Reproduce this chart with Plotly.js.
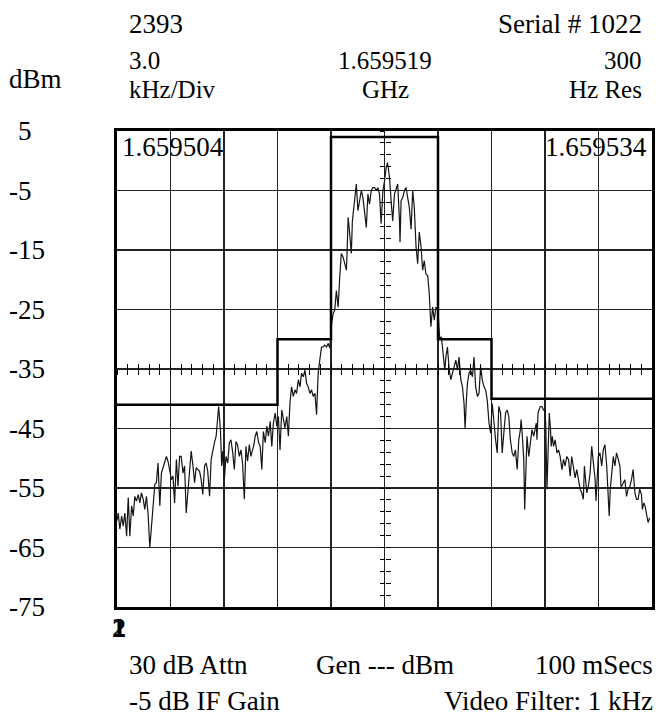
<!DOCTYPE html>
<html>
<head>
<meta charset="utf-8">
<script src="https://cdn.plot.ly/plotly-3.0.1.min.js"></script>
<style>html,body{margin:0;padding:0;background:#fff;}#chart{width:656px;height:717px;}</style>
</head>
<body>
<div id="chart"></div>
<script>
// Frequency offset from centre (kHz) and measured level (dBm)
const freqKHz = [
-15.00,-14.93,-14.84,-14.74,-14.65,-14.56,-14.46,-14.37,-14.28,-14.18,-14.09,-14.00,-13.91,-13.81,-13.72,-13.63,-13.53,-13.44,-13.35,-13.26,
-13.16,-13.07,-12.98,-12.88,-12.79,-12.70,-12.60,-12.51,-12.42,-12.33,-12.23,-12.14,-12.05,-11.95,-11.86,-11.77,-11.67,-11.58,-11.49,-11.40,
-11.30,-11.21,-11.12,-11.02,-10.93,-10.84,-10.74,-10.65,-10.56,-10.47,-10.37,-10.28,-10.19,-10.09,-10.00,-9.91,-9.81,-9.72,-9.63,-9.54,
-9.44,-9.35,-9.30,-9.20,-9.13,-9.07,-8.98,-8.89,-8.79,-8.70,-8.61,-8.51,-8.42,-8.33,-8.24,-8.14,-8.05,-7.96,-7.86,-7.77,
-7.68,-7.58,-7.49,-7.40,-7.34,-7.25,-7.16,-7.06,-6.97,-6.88,-6.79,-6.69,-6.60,-6.51,-6.41,-6.32,-6.23,-6.13,-6.04,-5.95,
-5.86,-5.76,-5.67,-5.58,-5.48,-5.39,-5.30,-5.21,-5.11,-5.02,-4.93,-4.83,-4.74,-4.65,-4.55,-4.46,-4.37,-4.28,-4.18,-4.09,
-4.00,-3.90,-3.81,-3.72,-3.63,-3.53,-3.44,-3.35,-3.25,-3.16,-3.07,-2.97,-2.88,-2.79,-2.70,-2.60,-2.51,-2.42,-2.32,-2.23,
-2.14,-2.10,-2.04,-1.95,-1.86,-1.80,-1.73,-1.65,-1.58,-1.49,-1.39,-1.30,-1.21,-1.12,-1.02,-0.93,-0.84,-0.74,-0.65,-0.56,
-0.46,-0.37,-0.28,-0.19,-0.09,0.00,0.09,0.17,0.28,0.37,0.46,0.56,0.65,0.74,0.84,0.87,0.93,1.02,1.12,1.21,
1.30,1.39,1.49,1.58,1.67,1.77,1.86,1.95,2.05,2.14,2.23,2.32,2.42,2.51,2.60,2.70,2.79,2.88,2.97,3.03,
3.10,3.18,3.25,3.31,3.38,3.44,3.53,3.63,3.72,3.81,3.90,4.00,4.09,4.18,4.28,4.37,4.46,4.52,4.59,4.65,
4.74,4.83,4.93,5.02,5.11,5.21,5.30,5.39,5.48,5.58,5.67,5.76,5.86,5.95,6.04,6.13,6.23,6.32,6.41,6.51,
6.60,6.69,6.79,6.88,6.97,7.06,7.16,7.25,7.34,7.44,7.53,7.62,7.66,7.72,7.81,7.86,7.92,7.99,8.09,8.18,
8.27,8.37,8.46,8.51,8.55,8.61,8.66,8.74,8.83,8.92,8.98,9.04,9.11,9.17,9.24,9.30,9.35,9.41,9.48,9.57,
9.67,9.76,9.85,9.95,10.04,10.13,10.22,10.32,10.41,10.50,10.60,10.69,10.78,10.88,10.97,11.06,11.15,11.21,11.28,11.34,
11.43,11.53,11.62,11.71,11.81,11.86,11.92,11.99,12.08,12.18,12.27,12.36,12.46,12.55,12.60,12.66,12.73,12.83,12.92,13.01,
13.11,13.20,13.26,13.31,13.39,13.48,13.57,13.66,13.76,13.85,13.94,14.04,14.13,14.22,14.31,14.41,14.46,14.54,14.61,14.69,
14.78,14.87
];
const levelDbm = [
-60.5,-59.2,-61.9,-59.7,-61.4,-59.2,-63.1,-56.6,-63.1,-58.0,-59.7,-56.4,-57.2,-56.1,-57.5,-55.8,-56.9,-58.6,-56.4,-59.2,
-65.0,-61.9,-57.5,-54.4,-54.1,-50.8,-58.0,-52.5,-51.6,-50.8,-49.7,-50.5,-51.9,-53.6,-53.0,-57.5,-50.2,-54.7,-49.7,-49.7,
-52.5,-51.3,-59.2,-55.2,-52.5,-48.8,-51.3,-54.1,-51.6,-51.9,-52.2,-53.6,-56.1,-51.3,-50.8,-52.2,-56.4,-50.2,-48.6,-47.4,
-46.3,-41.9,-41.3,-45.2,-51.3,-48.8,-53.6,-49.7,-50.8,-47.4,-46.9,-49.1,-51.9,-47.2,-47.7,-49.7,-48.6,-50.8,-56.9,-48.0,
-50.5,-47.7,-49.7,-48.6,-48.0,-46.3,-45.5,-47.4,-48.0,-51.9,-45.5,-47.4,-44.6,-46.3,-43.8,-48.0,-44.1,-42.4,-44.6,-43.0,
-48.6,-41.9,-43.5,-44.9,-43.0,-46.3,-40.7,-38.0,-39.6,-38.5,-39.1,-36.8,-38.0,-35.7,-36.3,-35.2,-37.4,-38.0,-39.1,-38.5,
-39.6,-39.1,-42.7,-35.7,-33.5,-31.3,-31.3,-31.0,-31.3,-30.7,-31.5,-27.4,-25.7,-25.1,-21.8,-24.6,-19.5,-15.6,-16.2,-17.3,
-18.4,-15.6,-9.5,-12.3,-15.6,-10.1,-7.8,-5.6,-3.9,-8.4,-6.2,-5.0,-6.2,-8.4,-11.2,-5.6,-7.3,-5.0,-4.5,-4.5,
-5.0,-4.5,-5.6,-10.6,-5.0,-3.4,-1.2,-0.3,-2.8,-6.7,-10.1,-5.6,-4.5,-3.9,-10.1,-13.7,-6.7,-6.2,-5.0,-4.5,
-6.2,-7.8,-11.5,-5.0,-7.8,-14.5,-17.3,-12.0,-14.5,-18.4,-16.8,-19.0,-19.3,-22.3,-27.9,-24.6,-26.8,-24.6,-25.1,-26.8,
-30.1,-29.6,-31.3,-33.5,-35.2,-33.0,-31.3,-35.2,-36.8,-35.7,-34.6,-33.5,-35.2,-33.0,-36.8,-38.0,-40.8,-45.0,-40.2,-37.4,
-35.7,-35.2,-36.3,-33.0,-38.0,-39.6,-39.1,-34.6,-36.8,-38.0,-38.5,-40.2,-44.1,-45.8,-40.8,-44.1,-46.9,-49.1,-41.3,-42.4,
-49.1,-45.8,-42.4,-41.9,-43.0,-46.9,-49.1,-49.7,-48.6,-51.9,-46.9,-45.2,-43.5,-45.8,-50.2,-58.6,-51.3,-46.3,-49.7,-46.9,
-45.2,-46.3,-44.7,-44.1,-46.9,-42.4,-41.9,-41.3,-41.3,-41.9,-41.9,-44.1,-55.2,-46.9,-42.4,-44.7,-48.0,-46.3,-48.0,-46.9,
-49.1,-48.6,-49.7,-51.9,-50.2,-51.3,-49.7,-50.2,-53.0,-49.7,-51.9,-53.3,-51.9,-53.6,-55.2,-55.8,-56.9,-51.3,-53.6,-55.8,
-54.7,-52.5,-48.0,-50.8,-53.6,-57.2,-53.6,-49.7,-49.1,-51.3,-48.6,-47.7,-51.3,-56.4,-59.7,-55.2,-53.0,-49.7,-51.3,-49.1,
-50.2,-51.3,-54.7,-54.7,-54.1,-53.6,-56.4,-55.2,-54.7,-53.6,-51.9,-55.8,-56.9,-56.9,-55.2,-56.1,-58.6,-57.5,-58.0,-59.7,
-60.8,-60.0
];
// Limit mask (step edges, kHz) and levels (dBm)
const maskKHz = [-15, -6, -3, 3, 6, 15];
const maskDbm = [-41, -30, 4, -30, -40, -40];

// Y tick labels
const yTickVals = [5, -5, -15, -25, -35, -45, -55, -65, -75];
const yTickText = ['5', '-5', '-15', '-25', '-35', '-45', '-55', '-65', '-75'];

// Header / footer texts
const startFreq = '1.659504';
const stopFreq = '1.659534';
const centerFreq = '1.659519';

const serif = 'Liberation Serif, Times New Roman, serif';
const F = {family: serif, size: 27, color: '#000'};
const FH = {family: serif, size: 25, color: '#000'};

const traces = [
  {x: freqKHz, y: levelDbm, type: 'scatter', mode: 'lines',
   line: {color: '#151515', width: 1.2}, hoverinfo: 'skip', showlegend: false},
  {x: maskKHz, y: maskDbm, type: 'scatter', mode: 'lines',
   line: {color: '#000', width: 2.5, shape: 'hv'}, hoverinfo: 'skip', showlegend: false},
  {x: [], y: [], xaxis: 'x2', yaxis: 'y2', type: 'scatter', showlegend: false},
  {x: [], y: [], xaxis: 'x3', yaxis: 'y3', type: 'scatter', showlegend: false}
];

const L = 117, W = 535, T = 131, H = 476;
const px = p => (p - L) / W;
const py = q => (T + H - q) / H;

const ann = [];
function txt(text, x, y, xanchor, font) {
  ann.push({text: text, xref: 'paper', yref: 'paper', x: px(x), y: py(y),
    xanchor: xanchor, yanchor: 'middle', showarrow: false, font: font || F, borderpad: 0});
}
txt('2393', 128, 24, 'left');
txt('3.0', 128, 60, 'left', FH);
txt('kHz/Div', 128, 89, 'left', FH);
txt('dBm', 8, 79, 'left');
txt(centerFreq, 385, 60, 'center', FH);
txt('GHz', 385, 89, 'center', FH);
txt('Serial # 1022', 643, 24, 'right');
txt('300', 643, 60, 'right', FH);
txt('Hz Res', 643, 89, 'right', FH);
txt(startFreq, 121, 147, 'left');
txt(stopFreq, 648, 147, 'right');
txt('1', 111, 627, 'left', {family: serif, size: 28, color: '#000', weight: 'bold'});
txt('2', 111, 627, 'left', {family: serif, size: 28, color: '#000', weight: 'bold'});
txt('30 dB Attn', 128, 665, 'left');
txt('Gen --- dBm', 385, 665, 'center');
txt('100 mSecs', 654, 665, 'right');
txt('-5 dB IF Gain', 128, 701, 'left');
txt('Video Filter: 1 kHz', 654, 701, 'right');
yTickVals.forEach((v, i) => {
  ann.push({text: yTickText[i], xref: 'paper', yref: 'y', x: px(8), y: v,
    xanchor: 'left', yanchor: 'middle', showarrow: false, font: F, borderpad: 0,
    xshift: yTickText[i].charAt(0) === '-' ? 0 : 9});
});

const grid = {showgrid: true, gridcolor: '#222', gridwidth: 1.3, zeroline: false,
  showticklabels: false, ticks: '', showline: true, linecolor: '#000', linewidth: 3, mirror: true,
  fixedrange: true};
const cross = {showgrid: false, zeroline: false, showticklabels: false, showline: false,
  tickcolor: '#000', tickwidth: 1, ticklen: 5, anchor: 'free', position: 0.5, fixedrange: true};

const layout = {
  width: 656, height: 717,
  margin: {l: L, r: 656 - L - W, t: T, b: 717 - T - H},
  paper_bgcolor: '#fff', plot_bgcolor: '#fff',
  showlegend: false,
  xaxis: Object.assign({}, grid, {range: [-15, 15], tick0: -15, dtick: 3}),
  yaxis: Object.assign({}, grid, {range: [-75, 5], tick0: -75, dtick: 10}),
  xaxis2: Object.assign({}, cross, {overlaying: 'x', range: [-15, 15], tick0: 0, dtick: 0.6, ticks: 'outside'}),
  yaxis2: Object.assign({}, cross, {overlaying: 'y', range: [-75, 5], tick0: -35, dtick: 2, ticks: 'outside'}),
  xaxis3: Object.assign({}, cross, {overlaying: 'x', range: [-15, 15], tick0: 0, dtick: 0.6, ticks: 'inside'}),
  yaxis3: Object.assign({}, cross, {overlaying: 'y', range: [-75, 5], tick0: -35, dtick: 2, ticks: 'inside'}),
  annotations: ann
};

Plotly.newPlot('chart', traces, layout, {staticPlot: true, displayModeBar: false});
</script>
</body>
</html>
